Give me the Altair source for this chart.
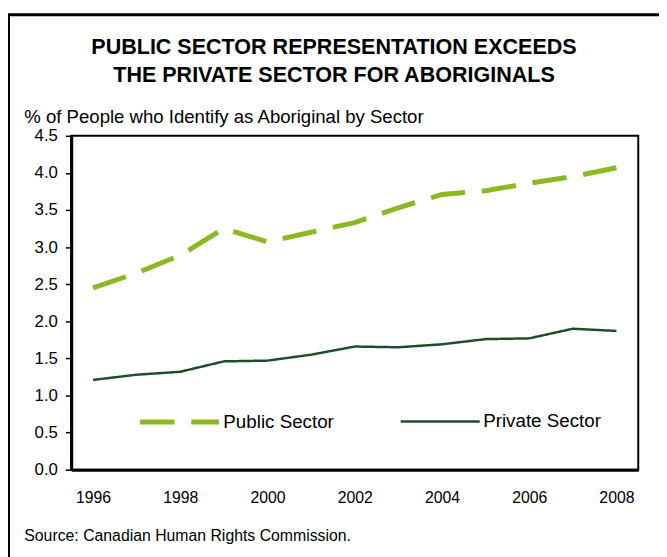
import altair as alt
import pandas as pd

years = list(range(1996, 2009))
public = [2.45, 2.65, 2.89, 3.25, 3.07, 3.20, 3.33, 3.53, 3.71, 3.76, 3.86, 3.95, 4.07]
private = [1.21, 1.28, 1.32, 1.46, 1.47, 1.55, 1.66, 1.65, 1.69, 1.76, 1.77, 1.90, 1.87]
series = ["Public Sector", "Private Sector"]
colors = ["#8CB923", "#1E4D2B"]
x_ticks = [1996, 1998, 2000, 2002, 2004, 2006, 2008]
y_ticks = [0.0, 0.5, 1.0, 1.5, 2.0, 2.5, 3.0, 3.5, 4.0, 4.5]

title_lines = ["PUBLIC SECTOR REPRESENTATION EXCEEDS", "THE PRIVATE SECTOR FOR ABORIGINALS"]
y_title = "% of People who Identify as Aboriginal by Sector"
source = "Source: Canadian Human Rights Commission."

df = pd.DataFrame({
    "year": years * 2,
    "value": public + private,
    "series": [series[0]] * len(years) + [series[1]] * len(years),
})

FONT = "Liberation Sans"

frame = alt.Chart(pd.DataFrame({"a": [0]})).mark_rect(
    fill=None, stroke="black", strokeWidth=3
).encode(
    x=alt.value(-63.5), x2=alt.value(700), y=alt.value(-122.5), y2=alt.value(600)
)

lines = alt.Chart(df).mark_line(clip=False).encode(
    x=alt.X("year:Q",
            scale=alt.Scale(domain=[1995.5, 2008.5], nice=False, zero=False),
            axis=alt.Axis(values=x_ticks, format="d", ticks=False, labelPadding=20,
                          labelFontSize=16,
                          title=source, titleAngle=0, titleX=-48, titleY=72,
                          titleAlign="left", titleBaseline="alphabetic",
                          titleFontWeight="normal", titleFontSize=16)),
    y=alt.Y("value:Q",
            scale=alt.Scale(domain=[0, 4.5], nice=False),
            axis=alt.Axis(values=y_ticks, format=".1f", tickSize=6, labelPadding=8,
                          labelFontSize=17,
                          title=y_title, titleAngle=0, titleX=-48, titleY=-13,
                          titleAlign="left", titleBaseline="alphabetic",
                          titleFontWeight="normal", titleFontSize=18.8)),
    color=alt.Color("series:N", scale=alt.Scale(domain=series, range=colors),
                    legend=alt.Legend(title=None, orient="none", legendX=67, legendY=247,
                                      direction="horizontal", symbolType="stroke",
                                      symbolSize=6400, labelFontSize=19, labelOffset=2,
                                      columnPadding=62, padding=0, labelColor="black")),
    strokeDash=alt.StrokeDash("series:N", scale=alt.Scale(domain=series, range=[[35, 17], [1, 0]])),
    strokeWidth=alt.StrokeWidth("series:N", scale=alt.Scale(domain=series, range=[5, 2.5])),
)

chart = alt.layer(frame, lines).properties(
    width=574, height=338,
    autosize=alt.AutoSizeParams(type="none"),
    padding={"left": 64, "top": 126, "right": 21, "bottom": 85},
    title=alt.TitleParams(text=title_lines, fontSize=21.8, fontWeight="bold", anchor="middle",
                          dx=-21, offset=-74, lineHeight=28, color="black", font=FONT),
).configure(font=FONT).configure_view(
    stroke="black", strokeWidth=2
).configure_axis(
    domainColor="black", domainWidth=3, tickColor="black", tickWidth=1.5,
    labelColor="black", titleColor="black", grid=False,
    labelFont=FONT, titleFont=FONT
).configure_legend(labelFont=FONT)

chart.save("out.html", embed_options={"renderer": "svg", "actions": False})
